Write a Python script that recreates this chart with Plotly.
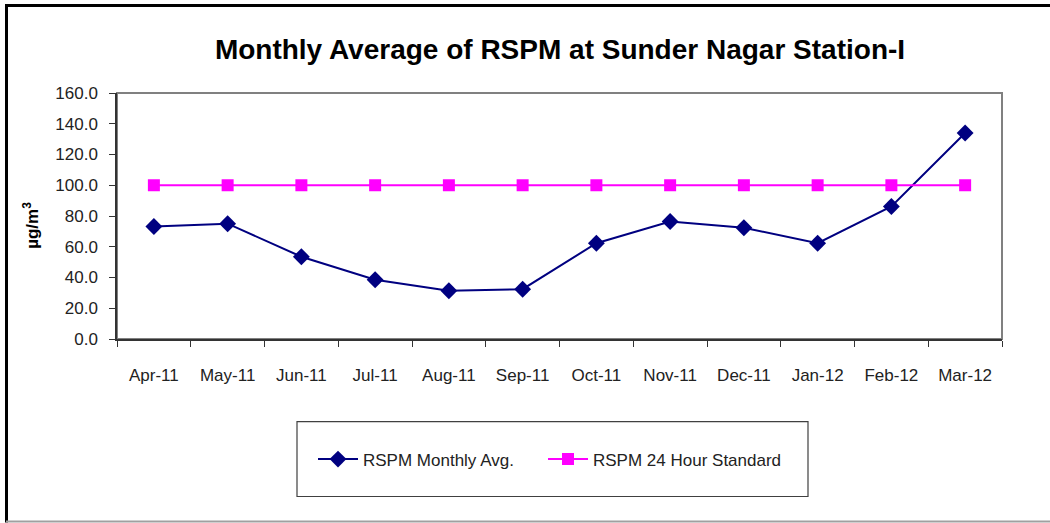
import plotly.graph_objects as go

months = ["Apr-11", "May-11", "Jun-11", "Jul-11", "Aug-11", "Sep-11",
          "Oct-11", "Nov-11", "Dec-11", "Jan-12", "Feb-12", "Mar-12"]
rspm_avg = [73.2, 75.0, 53.5, 38.5, 31.4, 32.4, 62.3, 76.4, 72.4, 62.3, 86.2, 134.0]
rspm_std = [100] * 12

W, H = 1050, 523
L, R, T, B = 117, 1002, 93, 339.3

def px_x(p):
    return (p - L) / (R - L)

def px_y(p):
    return (B - p) / (B - T)

FONT = "Arial, Liberation Sans, sans-serif"

fig = go.Figure()
fig.add_trace(go.Scatter(
    x=months, y=rspm_avg, name="RSPM Monthly Avg.", mode="lines+markers",
    line=dict(color="#000080", width=2),
    marker=dict(symbol="diamond", size=13, color="#000080"),
    legend="legend",
))
fig.add_trace(go.Scatter(
    x=months, y=rspm_std, name="RSPM 24 Hour Standard", mode="lines+markers",
    line=dict(color="#FF00FF", width=2),
    marker=dict(symbol="square", size=12, color="#FF00FF"),
    legend="legend2",
))

shapes = [
    dict(type="rect", xref="paper", yref="paper", x0=0, x1=1, y0=0, y1=1,
         line=dict(color="#808080", width=2), layer="below"),
    dict(type="rect", xref="paper", yref="paper",
         x0=px_x(297), x1=px_x(808), y0=px_y(497), y1=px_y(422),
         line=dict(color="#404040", width=1.2), fillcolor="rgba(0,0,0,0)"),
    dict(type="line", xref="paper", yref="paper",
         x0=px_x(5), x1=px_x(1050), y0=px_y(5.5), y1=px_y(5.5),
         line=dict(color="#000000", width=3)),
    dict(type="line", xref="paper", yref="paper",
         x0=px_x(6.5), x1=px_x(6.5), y0=px_y(4), y1=px_y(523),
         line=dict(color="#000000", width=3)),
    dict(type="line", xref="paper", yref="paper",
         x0=px_x(6), x1=px_x(1050), y0=px_y(522), y1=px_y(522),
         line=dict(color="#A0A0A0", width=2)),
]

annotations = [
    dict(text="<b>µg/m<sup>3</sup></b>", textangle=-90, xref="paper", yref="paper",
         x=px_x(31), y=px_y(226), xanchor="center", yanchor="middle",
         showarrow=False, font=dict(family=FONT, size=17, color="#000000")),
]

legend_common = dict(orientation="h", xanchor="left", yanchor="middle",
                     y=px_y(460), bgcolor="rgba(0,0,0,0)", itemwidth=40,
                     font=dict(family=FONT, size=17, color="#222222"))

fig.update_layout(
    width=W, height=H,
    margin=dict(l=L, r=W - R, t=T, b=H - B, autoexpand=False),
    paper_bgcolor="white", plot_bgcolor="white",
    font=dict(family=FONT, color="#222222", size=17),
    title=dict(text="<b>Monthly Average of RSPM at Sunder Nagar Station-I</b>",
               x=560 / W, xanchor="center",
               y=1 - 49 / H, yanchor="middle",
               font=dict(family=FONT, size=28, color="#000000")),
    showlegend=True,
    legend=dict(x=px_x(313), **legend_common),
    legend2=dict(x=px_x(543), **legend_common),
    shapes=shapes,
    annotations=annotations,
    xaxis=dict(type="category", tickson="boundaries", ticks="outside",
               ticklen=6, tickcolor="#333333", showgrid=False,
               showline=True, linecolor="#333333", linewidth=1.5,
               ticklabelstandoff=20, zeroline=False,
               tickfont=dict(family=FONT, size=17, color="#222222"),
               range=[-0.5, 11.5]),
    yaxis=dict(range=[0, 160], dtick=20, tickformat=".1f", ticks="outside",
               ticklen=6, tickcolor="#333333", showgrid=False,
               showline=True, linecolor="#333333", linewidth=1.5,
               zeroline=False, ticklabelstandoff=8,
               tickfont=dict(family=FONT, size=17, color="#222222")),
)

fig.write_html("out.html", config={"displayModeBar": False},
               post_script="document.body.style.margin='0px';")
